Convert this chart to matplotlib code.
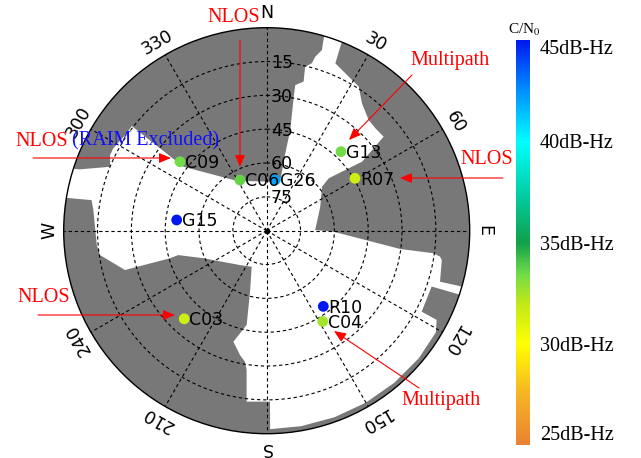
import numpy as np
import matplotlib.pyplot as plt
from matplotlib.colors import LinearSegmentedColormap, Normalize
from matplotlib.cm import ScalarMappable

plt.rcParams['mathtext.fontset'] = 'stix'

# satellites: azimuth/elevation in degrees, C/N0 in dB-Hz
sat_prn = ['G13', 'R07', 'C09', 'C06', 'G26', 'G15', 'C03', 'R10', 'C04']
sat_az = [43.2, 59.3, 308.5, 332.2, 9.5, 276.8, 223.1, 143.2, 148.3]
sat_el = [41.9, 44.5, 40.9, 64.6, 67.2, 49.8, 36.5, 48.1, 42.7]
sat_cn0 = [33.4, 31.5, 33.4, 33.6, 42.0, 45.0, 31.5, 45.0, 32.5]

# open sky outline (everything else is blocked by buildings)
# negative elevation = past the horizon, gets clipped by the plot circle
sky_az = [15.3, 13.5, 13.2, 11.4, 11.1, 13.9, 13.2, 15.1, 15.6, 17.0, 16.5, 16.5,
          21.6, 21.8, 22.3, 28.7, 32.6, 36.8, 42.7, 46.7, 51.2, 54.1, 49.8, 51.5,
          65.9, 89.2, 90.9, 97.8, 97.7, 98.5, 99.5, 106.4, 105.8, 108.2, 108.7,
          117.6, 117.7, 121.0, 130, 140, 150, 160, 170, 179.0, 178.9, 186.7,
          188.2, 189.4, 192.1, 196.7, 192.0, 195.3, 202.6, 217.9, 246.5, 254.6,
          254.1, 254.5, 261.7, 265.2, 276.8, 279.9, 279.1, 287.0, 288.2, 292.2,
          295.8, 298.2, 304.8, 307.8, 307.5, 329.0]
sky_el = [67.6, 54.7, 44.2, 29.4, 24.2, 21.9, 15.3, 13.1, 9.9, 6.2, 1.0, -5,
          -5, 2.1, 9.8, 12.9, 14.2, 19.5, 23.3, 23.8, 23.5, 37.8, 54.0, 58.7,
          64.0, 68.5, 60.3, 30.3, 15.5, 12.3, 11.3, 9.9, -5, -5, 12.8,
          12.5, 4.9, 2.5, 2, 2, 2, 2, 2, 2, 14.2, 13.7,
          27.6, 31.1, 33.6, 38.6, 47.3, 62.0, 72.7, 70.7, 59.4, 49.3,
          45.4, 24.8, 15.3, 14.4, 12.6, 11.2, -5, -5, 2.9, 15.0,
          12.9, 12.8, 14.4, 14.3, 43.4, 64.2]

az_ticks = [0, 30, 60, 90, 120, 150, 180, 210, 240, 270, 300, 330]
az_names = ['N', '30', '60', 'E', '120', '150', 'S', '210', '240', 'W', '300', '330']
el_rings = [15, 30, 45, 60, 75]

cb_ticks = [25, 30, 35, 40, 45]
cb_names = ['25dB-Hz', '30dB-Hz', '35dB-Hz', '40dB-Hz', '45dB-Hz']

W, H = 641, 458


def fpx(x, y):
    return x / W, 1 - y / H


fig = plt.figure(figsize=(W / 100, H / 100), dpi=100)
ax = fig.add_axes([63.7 / W, 1 - 433.7 / H, 406 / W, 406 / H], projection='polar')
ax.set_theta_zero_location('N')
ax.set_theta_direction(-1)
ax.set_facecolor('#787878')

ax.fill(np.radians(sky_az), 90 - np.array(sky_el), color='white', lw=0, zorder=1)
ax.set_ylim(0, 90)

ax.set_xticks(np.radians(az_ticks))
ax.set_xticklabels([])
ax.set_yticks([90 - e for e in el_rings])
ax.set_yticklabels([])
ax.set_axisbelow(False)
ax.grid(True, color='black', linestyle=(0, (3, 2.5)), lw=0.8)
ax.spines['polar'].set_linewidth(1.0)
ax.plot(0, 0, 'k.', ms=6, zorder=4)

for a, s in zip(az_ticks, az_names):
    ax.text(np.radians(a), 96.5, s, rotation=-a, ha='center', va='center',
            rotation_mode='anchor', fontsize=12.5, clip_on=False)

for e in el_rings:
    ax.annotate(str(e), xy=(0, 90 - e), xytext=(3, -1), textcoords='offset points',
                ha='left', va='center', fontsize=12.5, zorder=4)

cmap = LinearSegmentedColormap.from_list('cn0', [
    (0.0, '#ea8234'), (0.125, '#f6b424'), (0.25, '#ffff00'), (0.35, '#c0e818'),
    (0.42, '#72dc48'), (0.5, '#10a048'), (0.625, '#00d0a8'), (0.75, '#00ffff'),
    (0.875, '#0090ff'), (1.0, '#0018f0')])
norm = Normalize(25, 45)

ax.scatter(np.radians(sat_az), 90 - np.array(sat_el), c=sat_cn0, cmap=cmap, norm=norm,
           s=60, linewidths=0, zorder=5)
for prn, a, e in zip(sat_prn, sat_az, sat_el):
    ax.annotate(prn, xy=(np.radians(a), 90 - e), xytext=(3.5, -1), textcoords='offset points',
                ha='left', va='center', fontsize=12.5, zorder=6)

# colour bar
cax = fig.add_axes([516 / W, 1 - 445 / H, 14 / W, 405 / H])
cb = fig.colorbar(ScalarMappable(norm=norm, cmap=cmap), cax=cax)
cb.outline.set_visible(False)
cb.set_ticks(cb_ticks)
cb.set_ticklabels(cb_names)
cax.tick_params(length=0, pad=7, labelsize=14.5)
for t in cax.get_yticklabels():
    t.set_fontfamily('Liberation Serif')
labs = cax.get_yticklabels()
labs[0].set_va('bottom')
labs[-1].set_va('top')
fig.text(*fpx(524, 30), 'C/N$_0$', ha='center', va='center', fontsize=11,
         family='Liberation Serif')

# annotations
serif = dict(family='Liberation Serif', fontsize=14.5)
red = '#ff0000'
fig.text(*fpx(234, 17), 'NLOS', color=red, ha='center', va='center', **serif)
fig.text(*fpx(450, 60), 'Multipath', color=red, ha='center', va='center', **serif)
fig.text(*fpx(487, 160), 'NLOS', color=red, ha='center', va='center', **serif)
fig.text(*fpx(15, 141), 'NLOS', color=red, ha='left', va='center', **serif)
fig.text(*fpx(71.5, 141), '(RAIM Excluded)', color='#1010ff', ha='left', va='center', **serif)
fig.text(*fpx(44, 298), 'NLOS', color=red, ha='center', va='center', **serif)
fig.text(*fpx(441, 400), 'Multipath', color=red, ha='center', va='center', **serif)

arrows = [((240, 40), (240, 167)),
          ((412, 75), (349, 140)),
          ((503, 178), (400, 178)),
          ((33, 158), (171, 158)),
          ((38, 315), (175, 315)),
          ((419, 388), (334, 331))]
for start, tip in arrows:
    ax.annotate('', xy=fpx(*tip), xycoords='figure fraction',
                xytext=fpx(*start), textcoords='figure fraction',
                annotation_clip=False, zorder=7,
                arrowprops=dict(arrowstyle='-|>,head_length=0.6,head_width=0.25',
                                color=red, lw=0.8, mutation_scale=12,
                                shrinkA=0, shrinkB=0))

fig.savefig('out.png', dpi=100)
